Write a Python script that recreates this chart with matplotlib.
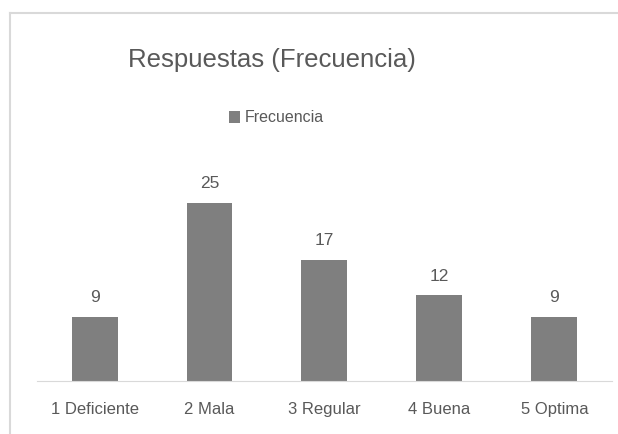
import matplotlib.pyplot as plt
from matplotlib.lines import Line2D
from matplotlib import font_manager

categories = ['1 Deficiente', '2 Mala', '3 Regular', '4 Buena', '5 Optima']
frecuencia = [9, 25, 17, 12, 9]

names = {f.name for f in font_manager.fontManager.ttflist}
font = 'Liberation Sans Narrow' if 'Liberation Sans Narrow' in names else 'Liberation Sans'
plt.rcParams['font.family'] = [font, 'DejaVu Sans']

text_col = '#595959'
bar_col = '#7f7f7f'
grid_col = '#d9d9d9'

fig = plt.figure(figsize=(6.18, 4.34), dpi=100)
ax = fig.add_axes([0.06, 0.1221, 0.93, 0.4929])

x = range(len(categories))
bars = ax.bar(x, frecuencia, width=0.4, color=bar_col, label='Frecuencia')
for b, v in zip(bars, frecuencia):
    ax.text(b.get_x() + b.get_width() / 2, v + 1.6, str(v), ha='center', va='bottom',
            fontsize=12.5, color=text_col)

ax.set_xlim(-0.5, len(categories) - 0.5)
ax.set_ylim(0, 30)
ax.set_yticks([])
ax.set_xticks(list(x))
ax.set_xticklabels(categories, fontsize=12, color=text_col)
ax.tick_params(axis='x', length=0, pad=15)
for s in ['top', 'right', 'left']:
    ax.spines[s].set_visible(False)
ax.spines['bottom'].set_color(grid_col)

# chart border (only top and left are visible in the crop)
fig.add_artist(Line2D([10 / 618, 10 / 618], [0, 1 - 13 / 434], transform=fig.transFigure,
                      color=grid_col, lw=1.5))
fig.add_artist(Line2D([10 / 618, 1], [1 - 13 / 434, 1 - 13 / 434], transform=fig.transFigure,
                      color=grid_col, lw=1.5))

fig.text(0.44, 1 - 60 / 434, 'Respuestas (Frecuencia)', ha='center', va='center',
         fontsize=18.5, color=text_col)
fig.legend(handles=[bars], labels=['Frecuencia'], loc='center', bbox_to_anchor=(0.447, 1 - 118 / 434),
           frameon=False, fontsize=11.5, labelcolor=text_col, handlelength=0.7, handleheight=0.7,
           handletextpad=0.3)

fig.savefig('out.png', dpi=100)
